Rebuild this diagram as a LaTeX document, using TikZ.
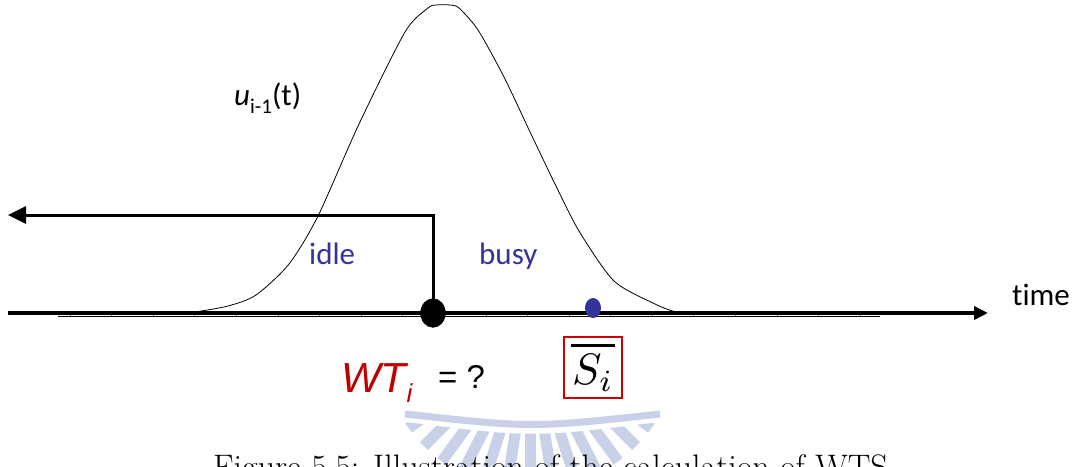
\documentclass[tikz,border=0pt]{standalone}
\usepackage{fontspec}
\newfontfamily\carlito[Ligatures=NoCommon]{Carlito}
\newfontfamily\libsans{Liberation Sans}
\usetikzlibrary{arrows.meta,shapes.geometric}
\definecolor{wtred}{RGB}{192,0,0}
\definecolor{boxred}{RGB}{204,0,0}
\definecolor{idleblue}{RGB}{51,51,153}
\definecolor{wm}{RGB}{200,209,232}
\begin{document}
\begin{tikzpicture}[x=1pt,y=-1pt,
  lbl/.style={inner sep=0pt, anchor=base west, font=\carlito\fontsize{31}{33}\selectfont},
  bluelbl/.style={lbl, text=idleblue},
  bigdot/.style={ellipse, fill=black, inner sep=0pt, minimum width=25pt, minimum height=29pt},
  smalldot/.style={ellipse, fill=idleblue, inner sep=0pt, minimum width=16pt, minimum height=20pt},
  wmray/.style={wm, line width=11pt},
  curve/.style={line width=0.8pt},
  tick/.style={gray, line width=0.6pt}]
\useasboundingbox (0,0) rectangle (1079,466);

% watermark
\begin{scope}
  \clip (398,421) .. controls (532,438) .. (667,421) -- (667,480) -- (398,480) -- cycle;
  \foreach \k in {-6,...,6}{
    \pgfmathsetmacro{\a}{90+\k*9}
    \draw[wmray] ({530+40*cos(\a)},{340+40*sin(\a)}) -- ({530+150*cos(\a)},{340+150*sin(\a)});
  }
\end{scope}
\draw[wm, line width=7pt] (405,414) .. controls (532,428) .. (660,414);

% caption (cut by the page edge)
\node[inner sep=0pt, anchor=base west, font=\fontsize{34}{36}\selectfont] (cap) at (213,478) {Figure 5.5: Illustration of the calculation of WTS};

% bell curve
\draw[curve] plot[smooth, tension=0.45] coordinates {
  (170,313) (194,312) (228,306) (256,295) (289,264) (318,216) (359,124)
  (405,32) (428,8) (436,5) (450,5) (459,8) (478,30) (504,77) (531,134)
  (555,184) (579,231) (614,281) (655,304) (676,312) (690,313)};

% thin time line with ticks
\coordinate (tl) at (58,316);
\coordinate (tr) at (880,316);
\draw[line width=1pt] (tl) -- (tr);
\foreach \k in {0,...,19}
  \draw[tick] ({70+41.58*\k},311) -- ++(0,5);

% axis
\coordinate (axL) at (8,313);
\coordinate (axR) at (988,313);
\draw[line width=4pt, -{Triangle[length=14pt,width=13pt]}] (axL) -- (axR);

% dots
\node[bigdot] (dot) at (433,313) {};
\node[smalldot] (sdot) at (593,308) {};

% idle arrow
\coordinate (arrL) at (8,215);
\draw[line width=3pt, -{Triangle[length=18pt,width=17pt]}] (dot.center) |- (arrL);
\node[bigdot] (dot2) at (433,313) {};

% labels
\node[lbl] (u) at (234,105) {\itshape u\upshape\raisebox{-8pt}{\fontsize{21}{21}\selectfont i-1}(t)};
\node[bluelbl] (idle) at (309,264) {idle};
\node[bluelbl] (busy) at (479,264) {busy};
\node[lbl] (time) at (1012,305) {time};

\node[inner sep=0pt, anchor=base west, text=wtred, font=\libsans\fontsize{42}{44}\selectfont\itshape] (wt) at (341,392)
  {WT\raisebox{-10pt}{\fontsize{26}{26}\selectfont i}};
\node[inner sep=0pt, anchor=base west, font=\libsans\fontsize{33}{35}\selectfont] (eq) at (438,388) {= ?};

\node[draw=boxred, line width=1.3pt, inner sep=0pt, minimum width=58pt, minimum height=61pt] (sbox) at (593,367.5)
  {\vbox{\hbox to 44pt{\hss\rule{44pt}{3pt}\hss}\kern7pt\hbox to 44pt{\hss\scalebox{4.4}{$S_i$}\hss}}};
\end{tikzpicture}
\end{document}
